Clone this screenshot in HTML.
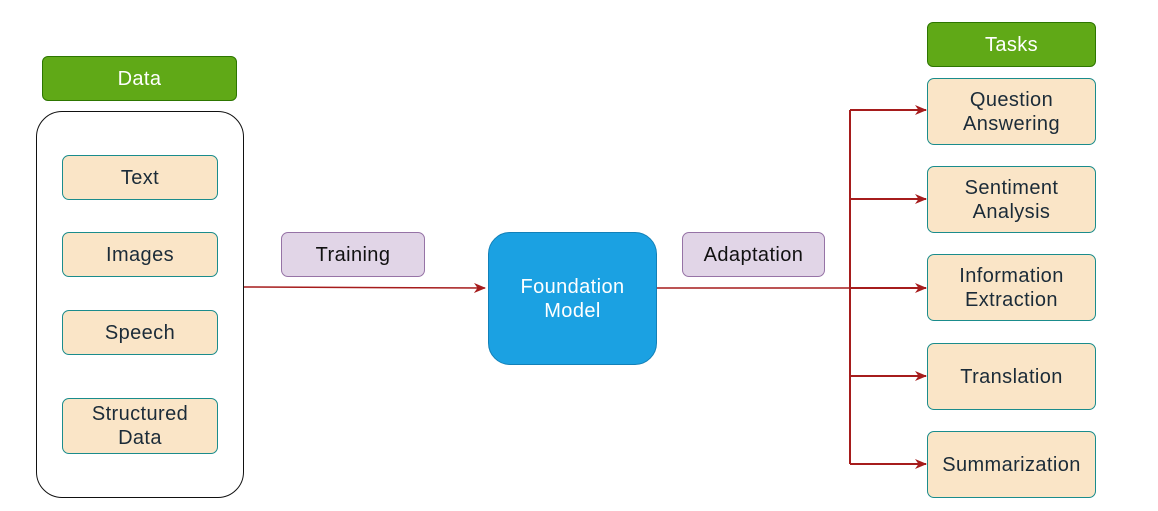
<!DOCTYPE html>
<html><head><style>
body{margin:0;width:1158px;height:511px;background:#fff;position:relative;overflow:hidden;font-family:"Liberation Sans",sans-serif}
.b{position:absolute;box-sizing:border-box;display:flex;align-items:center;justify-content:center;text-align:center;font-size:20px;line-height:24px;color:#1b2b38;letter-spacing:0.4px}
.g{background:#60a917;border:1.5px solid #2d7600;border-radius:6px;color:#fff}
.o{background:#fae5c7;border:1.5px solid #1a8c8c;border-radius:7px}
.p{background:#e1d5e7;border:1.5px solid #9673a6;border-radius:7px;color:#111}
</style></head><body>
<div class="b g" style="left:42px;top:56px;width:195px;height:45px">Data</div>
<div class="b" style="left:36px;top:111px;width:208px;height:387px;border:1.5px solid #111;border-radius:26px"></div>
<div class="b o" style="left:62px;top:155px;width:156px;height:45px">Text</div>
<div class="b o" style="left:62px;top:232px;width:156px;height:45px">Images</div>
<div class="b o" style="left:62px;top:310px;width:156px;height:45px">Speech</div>
<div class="b o" style="left:62px;top:398px;width:156px;height:56px">Structured<br>Data</div>
<div class="b p" style="left:281px;top:232px;width:144px;height:45px">Training</div>
<div class="b" style="left:488px;top:232px;width:169px;height:133px;background:#1ba1e2;border:1.5px solid #1280b8;border-radius:22px;color:#fff">Foundation<br>Model</div>
<div class="b p" style="left:682px;top:232px;width:143px;height:45px">Adaptation</div>
<div class="b g" style="left:927px;top:22px;width:169px;height:45px">Tasks</div>
<div class="b o" style="left:927px;top:78px;width:169px;height:67px">Question<br>Answering</div>
<div class="b o" style="left:927px;top:166px;width:169px;height:67px">Sentiment<br>Analysis</div>
<div class="b o" style="left:927px;top:254px;width:169px;height:67px">Information<br>Extraction</div>
<div class="b o" style="left:927px;top:343px;width:169px;height:67px">Translation</div>
<div class="b o" style="left:927px;top:431px;width:169px;height:67px">Summarization</div>
<svg width="1158" height="511" style="position:absolute;left:0;top:0" fill="none">
<defs><marker id="a" markerWidth="12" markerHeight="10" refX="11" refY="5" orient="auto" markerUnits="userSpaceOnUse"><path d="M0,0 L12,5 L0,10 L3.5,5z" fill="#a61c1c"/></marker></defs>
<g stroke="#a61c1c" stroke-width="1.5">
<path d="M244,287 L485,288" marker-end="url(#a)"/>
<path d="M657,288 L850,288"/>
<path d="M850,110 L850,464" stroke-width="2"/>
<path d="M850,110 L926,110" stroke-width="2" marker-end="url(#a)"/>
<path d="M850,199 L926,199" stroke-width="2" marker-end="url(#a)"/>
<path d="M850,288 L926,288" stroke-width="2" marker-end="url(#a)"/>
<path d="M850,376 L926,376" stroke-width="2" marker-end="url(#a)"/>
<path d="M850,464 L926,464" stroke-width="2" marker-end="url(#a)"/>
</g></svg>
</body></html>
